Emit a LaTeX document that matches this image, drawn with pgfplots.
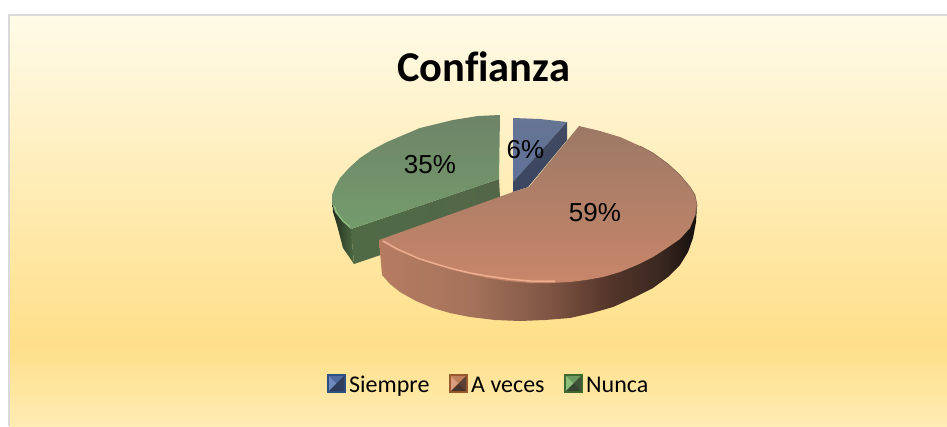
\documentclass[border=0pt]{standalone}
\usepackage{fontspec}
\setmainfont{Carlito}
\newfontfamily\lab{Liberation Sans}
\usepackage{pgfplots}
\pgfplotsset{compat=1.18}
\definecolor{bgT}{HTML}{FFFBE8}\definecolor{bgM}{HTML}{FFDF88}\definecolor{bgB}{HTML}{FFECB4}
\pgfdeclareverticalshading{bgs}{100bp}{color(0bp)=(bgB);color(25bp)=(bgB);color(34.85bp)=(bgM);color(75bp)=(bgT);color(100bp)=(bgT)}
\definecolor{brA}{HTML}{B67C62}\definecolor{brB}{HTML}{A5735B}\definecolor{brC}{HTML}{7E5543}\definecolor{brD}{HTML}{54352A}\definecolor{brE}{HTML}{3A2820}\definecolor{brF}{HTML}{15100C}
\pgfdeclarehorizontalshading{brownwall}{100bp}{color(0bp)=(brA);color(25bp)=(brA);color(39.3bp)=(brB);color(51.9bp)=(brC);color(61.3bp)=(brD);color(69.2bp)=(brE);color(75bp)=(brF);color(100bp)=(brF)}
\definecolor{b1}{HTML}{667593}\definecolor{b2}{HTML}{5F7098}\definecolor{b3}{HTML}{414B62}\definecolor{b4}{HTML}{3A4560}\definecolor{b5}{HTML}{2F4F85}
\definecolor{bt}{HTML}{4F6A9E}\definecolor{bl}{HTML}{7089BD}\definecolor{br}{HTML}{2F3D5A}\definecolor{bb}{HTML}{2D3C5A}
\definecolor{g1}{HTML}{6E8468}\definecolor{g2}{HTML}{749C6C}\definecolor{g3}{HTML}{4F6A45}\definecolor{g4}{HTML}{536748}\definecolor{g5}{HTML}{1F2D1C}\definecolor{g6}{HTML}{4F6A45}\definecolor{g7}{HTML}{8FBF80}\definecolor{g8}{HTML}{3E6A30}
\definecolor{gt}{HTML}{6C9960}\definecolor{gl}{HTML}{8CBF7A}\definecolor{gr}{HTML}{3F5238}\definecolor{gb}{HTML}{35452F}
\definecolor{r1}{HTML}{9C7965}\definecolor{r2}{HTML}{C8866A}\definecolor{r3}{HTML}{EDAE90}\definecolor{r4}{HTML}{8A6A58}\definecolor{r5}{HTML}{9A5A2E}
\definecolor{rt}{HTML}{C07F5C}\definecolor{rl}{HTML}{DC9D7E}\definecolor{rr}{HTML}{5B4033}\definecolor{rb}{HTML}{4A3328}
\begin{document}
\begin{tikzpicture}
\path[use as bounding box] (0,0) rectangle (947pt,426pt);
\begin{axis}[
  at={(0,0)}, anchor=south west,
  scale only axis, width=947pt, height=426pt,
  xmin=0, xmax=947, ymin=0, ymax=426, y dir=reverse,
  hide axis, clip=true, no markers,
  every axis plot/.append style={line join=round}]
% background and frame
\addplot[draw=none, shade, shading=bgs] coordinates {(9,15)(947,15)(947,426)(9,426)} -- cycle;
\addplot[color=black!15, line width=1.4pt] coordinates {(9,426)(9,15)(947,15)};
% blue slice (Siempre 6%)
\addplot[draw=none, top color=b1, bottom color=b2] coordinates {(513,118)(540,119)(567,122)(513,182)} -- cycle;
\addplot[draw=none, top color=b3, bottom color=b4] coordinates {(567,122)(567,140)(528,187)(513,192)(513,182)} -- cycle;
% green slice (Nunca 35%)
\addplot[draw=none, left color=g3, right color=g4] coordinates {(351,229)(499,179)(500,197)(499,215)(354,264)} -- cycle;
\addplot[draw=none, left color=g5, right color=g6] coordinates {(332,195)(333,212)(337,225)(343,248)(354,264)(351,229)(335,212)} -- cycle;
\addplot[draw=none, top color=g1, bottom color=g2] coordinates {(500,115)(478,116)(453,120)(420,128)(387,142)(372,150)(360,158)(349,168)(340,178)(335,187)(332,195)(332,204)(335,212)(342,221)(351,229)(499,179)} -- cycle;
\addplot[color=g7, line width=1.2pt] coordinates {(334,206)(337,213)(343,221)(350,227)};
% brown slice (A veces 59%)
\addplot[draw=none, shade, shading=brownwall] coordinates {(379,240)(382,275)(390,284)(400,292)(416,301)(433,308)(450,313)(470,317)(495,320)(520,321)(545,320)(570,318)(592,313)(613,307)(633,298)(653,288)(668,277)(680,265)(688,252)(693,238)(696,222)(697,205)} -- cycle;
\addplot[draw=none, top color=r1, bottom color=r2] coordinates {(579,126)(600,131)(620,137)(640,146)(653,153)(668,164)(680,175)(690,187)(695,195)(697,205)(695,216)(690,228)(680,239)(667,248)(653,257)(637,265)(620,272)(603,277)(586,280)(570,282)(550,283)(530,283)(508,281)(487,278)(470,274)(453,270)(436,265)(420,260)(408,255)(397,250)(388,245)(379,240)(513,192)(529,187)} -- cycle;
\addplot[color=r3, line width=1.5pt] coordinates {(383,241)(397,249)(420,259)(436,264)(453,269)(470,273)(487,276)(508,279)(530,281)(555,281)};
\addplot[color=r4, line width=.7pt] coordinates {(640,146)(653,153)(668,164)(680,175)(690,187)(695,195)(697,205)(695,216)};
% legend swatches
\addplot[draw=none, fill=b5] coordinates {(327,374)(346,374)(346,393)(327,393)} -- cycle;
\addplot[draw=none, fill=bt] coordinates {(329,376)(344,376)(336.5,383.5)} -- cycle;
\addplot[draw=none, fill=bl] coordinates {(329,376)(336.5,383.5)(329,391)} -- cycle;
\addplot[draw=none, fill=br] coordinates {(344,376)(344,391)(336.5,383.5)} -- cycle;
\addplot[draw=none, fill=bb] coordinates {(329,391)(344,391)(336.5,383.5)} -- cycle;
\addplot[draw=none, fill=r5] coordinates {(449,374)(468,374)(468,393)(449,393)} -- cycle;
\addplot[draw=none, fill=rt] coordinates {(451,376)(466,376)(458.5,383.5)} -- cycle;
\addplot[draw=none, fill=rl] coordinates {(451,376)(458.5,383.5)(451,391)} -- cycle;
\addplot[draw=none, fill=rr] coordinates {(466,376)(466,391)(458.5,383.5)} -- cycle;
\addplot[draw=none, fill=rb] coordinates {(451,391)(466,391)(458.5,383.5)} -- cycle;
\addplot[draw=none, fill=g8] coordinates {(564,374)(583,374)(583,393)(564,393)} -- cycle;
\addplot[draw=none, fill=gt] coordinates {(566,376)(581,376)(573.5,383.5)} -- cycle;
\addplot[draw=none, fill=gl] coordinates {(566,376)(573.5,383.5)(566,391)} -- cycle;
\addplot[draw=none, fill=gr] coordinates {(581,376)(581,391)(573.5,383.5)} -- cycle;
\addplot[draw=none, fill=gb] coordinates {(566,391)(581,391)(573.5,383.5)} -- cycle;
% texts
\node[anchor=center] at (axis cs:483.5,67) {\fontsize{42.5}{50}\selectfont\bfseries Conf\kern0pt ianza};
\node[anchor=center] at (axis cs:525.5,150) {\lab\fontsize{26}{30}\selectfont 6\%};
\node[anchor=center] at (axis cs:430,165) {\lab\fontsize{26}{30}\selectfont 35\%};
\node[anchor=center] at (axis cs:595,213) {\lab\fontsize{26}{30}\selectfont 59\%};
\node[anchor=base west, inner sep=0pt] at (axis cs:349,392) {\fontsize{24}{28}\selectfont Siempre};
\node[anchor=base west, inner sep=0pt] at (axis cs:471,392) {\fontsize{24}{28}\selectfont A veces};
\node[anchor=base west, inner sep=0pt] at (axis cs:586,392) {\fontsize{24}{28}\selectfont Nunca};
\end{axis}
\end{tikzpicture}
\end{document}
